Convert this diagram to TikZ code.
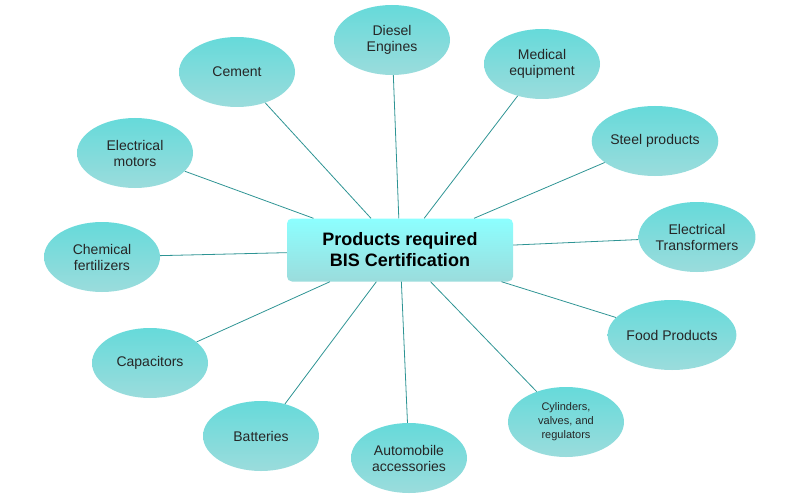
\documentclass[tikz,border=0pt]{standalone}
\usepackage{fontspec}
\setmainfont{Liberation Sans}
\usetikzlibrary{shapes.geometric}
\definecolor{etop}{HTML}{66DADA}
\definecolor{ebot}{HTML}{9BDCDC}
\definecolor{ln}{HTML}{2E9494}
\begin{document}
\begin{tikzpicture}[x=1pt,y=-1pt,
 el/.style={ellipse,minimum width=116pt,minimum height=70pt,inner sep=0pt,top color=etop,bottom color=ebot,draw=none,font=\fontsize{14}{16}\selectfont,align=center,text=black!85},
 hub/.style={rounded corners=5pt,minimum width=226pt,minimum height=63pt,top color=cyan!45!white,bottom color=ebot,draw=none,font=\bfseries\fontsize{18}{21}\selectfont,align=center},
 con/.style={ln,line width=0.8pt}]
\useasboundingbox (0,0) rectangle (800,500);
\node[hub] (c) at (400,250) {Products required\\BIS Certification};
\node[el] (d) at (392,40) {Diesel\\Engines};
\node[el] (m) at (542,64) {Medical\\equipment};
\node[el] (ce) at (237,72) {Cement};
\node[el] (s) at (655,141) {Steel products};
\node[el] (em) at (135,153) {Electrical\\motors};
\node[el] (et) at (697,237) {Electrical\\Transformers};
\node[el] (cf) at (102,257) {Chemical\\fertilizers};
\node[el] (f) at (672,335) {Food Products};
\node[el] (ca) at (150,363) {Capacitors};
\node[el,font=\fontsize{11}{14}\selectfont] (cy) at (566,422) {Cylinders,\\valves, and\\regulators};
\node[el] (b) at (261,436) {Batteries};
\node[el] (a) at (409,458) {Automobile\\accessories};
\foreach \n in {d,m,ce,s,em,et,cf,f,ca,cy,b,a} \draw[con] (c) -- (\n);
\end{tikzpicture}
\end{document}
